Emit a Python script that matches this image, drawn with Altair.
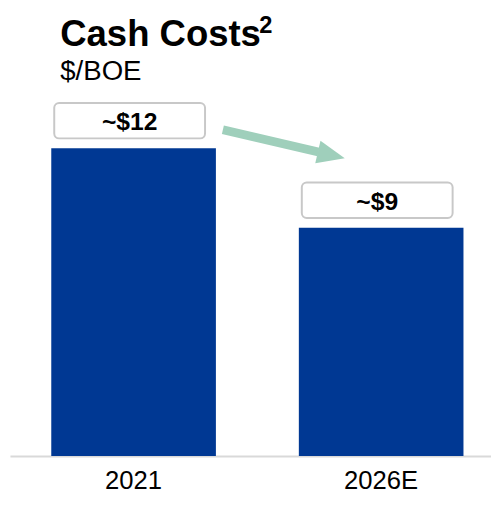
import altair as alt
import pandas as pd

categories = ["2021", "2026E"]
values = [12.0, 8.9]
labels = ["~$12", "~$9"]
title_text = "Cash Costs"
title_sup = "2"
subtitle_text = "$/BOE"

FONT = "Liberation Sans, Arial, sans-serif"
BLUE = "#003893"
GREEN = "#9fcfbb"

df = pd.DataFrame({"cat": categories, "value": values, "label": labels})

xenc = alt.X(
    "cat:N",
    sort=categories,
    scale=alt.Scale(paddingInner=0.335, paddingOuter=0.139, align=0.6),
    axis=alt.Axis(
        title=None,
        labelAngle=0,
        ticks=False,
        tickSize=0,
        domainColor="#d9d9d9",
        domainWidth=2,
        labelFont=FONT,
        labelFontSize=26,
        labelColor="#000000",
        labelBaseline="alphabetic",
        labelPadding=33,
    ),
)
yenc = alt.Y(
    "value:Q",
    scale=alt.Scale(domain=[0, 17.33], nice=False, zero=True),
    axis=None,
)

base = alt.Chart(df)

bars = base.mark_bar(color=BLUE).encode(x=xenc, y=yenc)

boxes = base.mark_bar(
    width=153,
    xOffset=-4,
    yOffset=-46,
    y2Offset=-10,
    fill="white",
    stroke="#c8c8c8",
    strokeWidth=2,
    cornerRadius=5,
).encode(x=xenc, y=yenc, y2=alt.Y2("value"))

texts = base.mark_text(
    font=FONT,
    fontSize=25,
    fontWeight="bold",
    color="#000000",
    align="center",
    baseline="alphabetic",
    dx=-4,
    dy=-18,
).encode(x=xenc, y=yenc, text="label:N")

ann = alt.Data(values=[{"t": title_text, "p": title_sup, "s": subtitle_text}])

title = alt.Chart(ann).mark_text(
    font=FONT, fontSize=37, fontWeight="bold", color="#000000",
    align="left", baseline="alphabetic",
).encode(x=alt.value(51), y=alt.value(35), text="t:N")

sup = alt.Chart(ann).mark_text(
    font=FONT, fontSize=24, fontWeight="bold", color="#000000",
    align="left", baseline="alphabetic",
).encode(x=alt.value(253), y=alt.value(22), text="p:N")

subtitle = alt.Chart(ann).mark_text(
    font=FONT, fontSize=28, color="#000000",
    align="left", baseline="alphabetic",
).encode(x=alt.value(51), y=alt.value(69), text="s:N")

shaft = alt.Chart(ann).mark_rule(color=GREEN, strokeWidth=9, strokeCap="butt").encode(
    x=alt.value(216), y=alt.value(120), x2=alt.value(313), y2=alt.value(142.5)
)

head = alt.Chart(ann).mark_point(
    shape="M-1,-0.84L1,0L-1,0.84Z",
    size=784,
    filled=True,
    opacity=1,
    color=GREEN,
    angle=13,
    strokeWidth=0,
).encode(x=alt.value(326), y=alt.value(145.6))

chart = alt.layer(bars, boxes, texts, title, sup, subtitle, shaft, head).properties(
    width=488,
    height=451,
    autosize=alt.AutoSizeParams(type="none"),
    padding={"left": 2, "top": 0, "right": 0, "bottom": 40},
).configure_view(stroke=None).configure_axis(grid=False)

chart.save("out.html", embed_options={"renderer": "svg", "actions": False})
